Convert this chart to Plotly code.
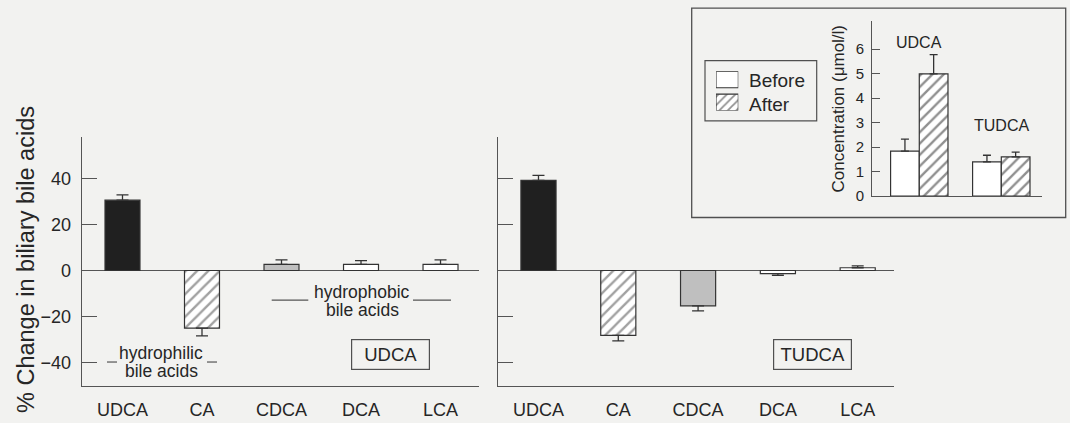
import plotly.graph_objects as go

W, H = 1070, 423

# Percentage change in biliary bile acids, conjugated forms
acids = ["UDCA", "CA", "CDCA", "DCA", "LCA"]
udca_change = [30.7, -25.1, 2.7, 2.7, 2.7]
udca_sem = [2.3, 3.4, 1.9, 1.6, 1.9]
tudca_change = [39.3, -28.3, -15.4, -1.4, 1.2]
tudca_sem = [2.2, 2.4, 2.2, 0.7, 0.8]
change_ticks = [-40, -20, 0, 20, 40]

# Serum concentration before / after treatment (µmol/l)
treatments = ["UDCA", "TUDCA"]
conc_before = [1.84, 1.40]
conc_before_sem = [0.49, 0.27]
conc_after = [4.99, 1.60]
conc_after_sem = [0.78, 0.20]
conc_ticks = [0, 1, 2, 3, 4, 5, 6]
periods = ["Before", "After"]

# bar styling per acid
bar_fill = ["#202020", "#ffffff", "#bfbfbf", "#ffffff", "#ffffff"]
bar_hatch = ["", "/", "", "", ""]

FONT = "Liberation Sans, Arial, Helvetica, sans-serif"
INK = "#262626"
LINE = "#555555"
BG = "#f2f2f0"
HATCH = "#222222"


def px(x):
    return x / W


def py(y):
    return 1 - y / H


def one_sided(vals, sems):
    up = [s if v >= 0 else 0 for v, s in zip(vals, sems)]
    down = [s if v < 0 else 0 for v, s in zip(vals, sems)]
    return up, down


fig = go.Figure()

for vals, sems, xa, ya in [
    (udca_change, udca_sem, "x", "y"),
    (tudca_change, tudca_sem, "x2", "y2"),
]:
    up, down = one_sided(vals, sems)
    fig.add_trace(go.Bar(
        x=acids, y=vals, width=0.44, xaxis=xa, yaxis=ya, showlegend=False,
        marker=dict(
            color=bar_fill,
            line=dict(color="#333333", width=1.2),
            pattern=dict(shape=bar_hatch, fgcolor=HATCH, bgcolor="#ffffff",
                         size=8, solidity=0.3),
        ),
        error_y=dict(type="data", symmetric=False, array=up, arrayminus=down,
                     color="#333333", thickness=1.3, width=6),
    ))

# inset: grouped before/after bars
fig.add_trace(go.Bar(
    x=treatments, y=conc_before, width=0.35, offset=-0.35, xaxis="x3", yaxis="y3",
    showlegend=False,
    marker=dict(color="#ffffff", line=dict(color="#333333", width=1.2)),
    error_y=dict(type="data", symmetric=False, array=conc_before_sem,
                 arrayminus=[0, 0], color="#333333", thickness=1.3, width=4),
))
fig.add_trace(go.Bar(
    x=treatments, y=conc_after, width=0.35, offset=0, xaxis="x3", yaxis="y3",
    showlegend=False,
    marker=dict(color="#ffffff", line=dict(color="#333333", width=1.2),
                pattern=dict(shape="/", fgcolor=HATCH, bgcolor="#ffffff",
                             size=8, solidity=0.3)),
    error_y=dict(type="data", symmetric=False, array=conc_after_sem,
                 arrayminus=[0, 0], color="#333333", thickness=1.3, width=4),
))

# legend swatches for the inset
fig.add_trace(go.Bar(
    y=periods, x=[1, 1], orientation="h", width=0.72, xaxis="x4", yaxis="y4",
    showlegend=False, hoverinfo="skip",
    marker=dict(color="#ffffff", line=dict(color="#333333", width=1.1),
                pattern=dict(shape=["", "/"], fgcolor=HATCH, bgcolor="#ffffff",
                             size=6, solidity=0.3)),
))

axis_common = dict(showgrid=False, linecolor=LINE, linewidth=1.3, mirror=False,
                   tickfont=dict(family=FONT, size=18, color=INK))

change_y = dict(axis_common, range=[-50.2, 58.1], tickvals=change_ticks,
                ticks="inside", ticklen=15, tickcolor=LINE, tickwidth=1.3,
                showline=True, zeroline=True, zerolinecolor=LINE, zerolinewidth=1.3,
                domain=[py(393), py(140)], ticklabelstandoff=6)

fig.update_layout(
    width=W, height=H,
    margin=dict(l=0, r=0, t=0, b=0),
    paper_bgcolor=BG, plot_bgcolor="rgba(0,0,0,0)",
    font=dict(family=FONT, color=INK),
    barmode="overlay",
    xaxis=dict(axis_common, type="category", range=[-0.513, 4.484],
               domain=[px(81.7), px(479)], showline=True, ticks="",
               ticklabelstandoff=8, anchor="y"),
    yaxis=dict(change_y, anchor="x"),
    xaxis2=dict(axis_common, type="category", range=[-0.511, 4.455],
                domain=[px(497.7), px(894)], showline=True, ticks="",
                ticklabelstandoff=8, anchor="y2"),
    yaxis2=dict(change_y, anchor="x2", showticklabels=False),
    xaxis3=dict(axis_common, type="category", range=[-0.573, 1.5],
                domain=[px(872.3), px(1042.3)], showline=True, ticks="",
                showticklabels=False, anchor="y3"),
    yaxis3=dict(axis_common, range=[0, 7.13], tickvals=conc_ticks,
                ticks="inside", ticklen=8, tickcolor=LINE, tickwidth=1.2,
                showline=True, zeroline=False, anchor="x3",
                domain=[py(200), py(21.7)], ticklabelstandoff=4,
                tickfont=dict(family=FONT, size=15, color=INK),
                title=dict(text="Concentration (μmol/l)", standoff=6,
                           font=dict(family=FONT, size=17, color=INK))),
    xaxis4=dict(range=[0, 1], domain=[px(716), px(738.3)], visible=False,
                anchor="y4", fixedrange=True),
    yaxis4=dict(type="category", range=[1.36, -0.36],
                domain=[py(112.7), py(72.7)], visible=False, anchor="x4",
                fixedrange=True),
)

shapes = [
    # inset frame and its legend box
    dict(type="rect", xref="paper", yref="paper", x0=px(691.7), x1=px(1065.7),
         y0=py(221.7), y1=py(8.3), line=dict(color="#505050", width=1.3),
         fillcolor="rgba(0,0,0,0)", layer="below"),
    dict(type="rect", xref="paper", yref="paper", x0=px(705), x1=px(816.7),
         y0=py(123.3), y1=py(61.7), line=dict(color="#505050", width=1.2),
         fillcolor="rgba(0,0,0,0)"),
]
# short rules bracketing the group labels
for x0, x1, y in [(107, 117, 369), (207, 217, 369),
                  (271.7, 308.3, 306), (413, 451, 306)]:
    shapes.append(dict(type="line", xref="paper", yref="paper",
                       x0=px(x0), x1=px(x1), y0=py(y), y1=py(y),
                       line=dict(color=LINE, width=1.2)))
fig.update_layout(shapes=shapes)

ann = []


def label(text, x, y, size, xanchor="center", **kw):
    ann.append(dict(text=text, x=px(x), y=py(y), xref="paper", yref="paper",
                    showarrow=False, xanchor=xanchor, yanchor="middle",
                    font=dict(family=FONT, size=size, color=INK), **kw))


label("% Change in biliary bile acids", 26, 265, 23.5, textangle=-90)
label("hydrophilic", 161, 360, 17.5)
label("bile acids", 161, 378.5, 17.5)
label("hydrophobic", 362, 297.5, 17.5)
label("bile acids", 362, 316, 17.5)
for text, xc in [("UDCA", 390.5), ("TUDCA", 812)]:
    label(text, xc, 361.5, 18.5, bordercolor="#505050", borderwidth=1.2,
          borderpad=3, width=71, height=23)
label("Before", 747.3, 82.3, 19, xanchor="left")
label("After", 747.3, 106.7, 19, xanchor="left")

# group names above the inset bars
ann.append(dict(text=treatments[0], x=treatments[0], y=6.27, xref="x3", yref="y3",
                showarrow=False, font=dict(family=FONT, size=16, color=INK)))
ann.append(dict(text=treatments[1], x=treatments[1], y=2.87, xref="x3", yref="y3",
                showarrow=False, font=dict(family=FONT, size=16, color=INK)))

fig.update_layout(annotations=ann)

fig.write_html("out.html")
